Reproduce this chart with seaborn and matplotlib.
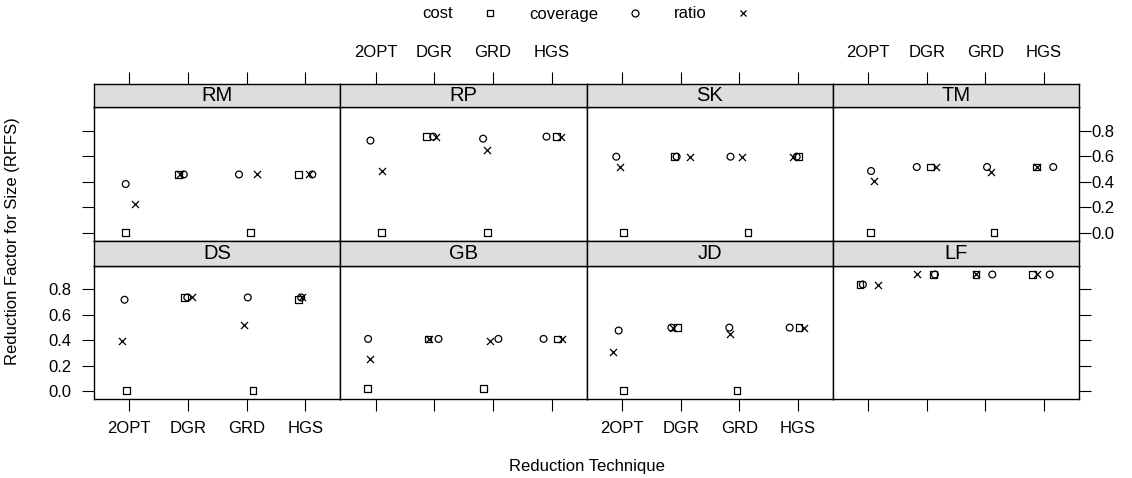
import numpy as np
import pandas as pd
import seaborn as sns
import matplotlib.pyplot as plt
from matplotlib.lines import Line2D

# Panels (lattice order: top row then bottom row) and techniques on the x axis
groups = ['RM', 'RP', 'SK', 'TM', 'DS', 'GB', 'JD', 'LF']
techniques = ['2OPT', 'DGR', 'GRD', 'HGS']
measures = ['cost', 'coverage', 'ratio']

# RFFS values per group (rows) and technique (columns)
cost = [
    [0.0, 0.457, 0.0, 0.457],
    [0.0, 0.753, 0.0, 0.753],
    [0.0, 0.596, 0.0, 0.596],
    [0.0, 0.515, 0.0, 0.515],
    [0.0, 0.737, 0.0, 0.719],
    [0.021, 0.410, 0.021, 0.410],
    [0.0, 0.499, 0.0, 0.499],
    [0.839, 0.918, 0.918, 0.918],
]
coverage = [
    [0.382, 0.457, 0.457, 0.457],
    [0.722, 0.753, 0.737, 0.753],
    [0.596, 0.596, 0.596, 0.596],
    [0.484, 0.515, 0.515, 0.515],
    [0.719, 0.737, 0.737, 0.737],
    [0.410, 0.410, 0.410, 0.410],
    [0.476, 0.499, 0.499, 0.499],
    [0.839, 0.918, 0.918, 0.918],
]
ratio = [
    [0.227, 0.457, 0.457, 0.457],
    [0.481, 0.753, 0.648, 0.753],
    [0.515, 0.596, 0.596, 0.596],
    [0.408, 0.515, 0.476, 0.515],
    [0.397, 0.737, 0.518, 0.737],
    [0.251, 0.410, 0.392, 0.410],
    [0.303, 0.499, 0.452, 0.499],
    [0.839, 0.918, 0.918, 0.918],
]

# horizontal jitter of each point
cost_jitter = [
    [-0.06, -0.16, 0.07, -0.11],
    [0.10, -0.14, -0.10, 0.08],
    [0.03, -0.10, 0.15, 0.01],
    [0.04, 0.06, 0.15, -0.12],
    [-0.05, -0.06, 0.11, -0.11],
    [-0.14, -0.11, -0.17, 0.10],
    [0.02, -0.05, -0.04, 0.02],
    [-0.14, 0.11, -0.16, -0.19],
]
coverage_jitter = [
    [-0.06, -0.07, -0.13, 0.12],
    [-0.09, -0.02, -0.17, -0.09],
    [-0.10, -0.07, -0.15, -0.02],
    [0.05, -0.17, 0.03, 0.16],
    [-0.08, -0.01, 0.02, -0.07],
    [-0.13, 0.07, 0.09, -0.14],
    [-0.06, -0.16, -0.17, -0.14],
    [-0.09, 0.14, 0.12, 0.10],
]
ratio_jitter = [
    [0.10, -0.14, 0.17, 0.06],
    [0.11, 0.03, -0.11, 0.16],
    [-0.03, 0.15, 0.05, -0.09],
    [0.10, 0.16, 0.09, -0.12],
    [-0.12, 0.07, -0.05, -0.06],
    [-0.09, -0.09, -0.06, 0.18],
    [-0.15, -0.13, -0.16, 0.10],
    [0.16, -0.16, -0.16, -0.11],
]

yticks = [0.0, 0.2, 0.4, 0.6, 0.8]

# build long table
rows = []
for vals, jit, m in [(cost, cost_jitter, 'cost'),
                     (coverage, coverage_jitter, 'coverage'),
                     (ratio, ratio_jitter, 'ratio')]:
    for gi, g in enumerate(groups):
        for ti, t in enumerate(techniques):
            rows.append({'group': g, 'technique': t, 'measure': m,
                         'xpos': ti + 1 + jit[gi][ti], 'rffs': vals[gi][ti]})
df = pd.DataFrame(rows)

sns.set_style('white')
plt.rcParams['font.family'] = ['Liberation Sans', 'DejaVu Sans']
plt.rcParams['text.color'] = 'black'
plt.rcParams['xtick.color'] = 'black'
plt.rcParams['ytick.color'] = 'black'
plt.rcParams['axes.labelcolor'] = 'black'

W, H = 1132, 478
fig = plt.figure(figsize=(W / 100, H / 100), dpi=100)

def frac(x0, y0, x1, y1):
    return [x0 / W, 1 - y1 / H, (x1 - x0) / W, (y1 - y0) / H]

col_x = [94, 340.5, 587, 833, 1079]
row_y = [(84, 107, 241), (241, 266, 399)]  # strip top, panel top, panel bottom

markers = {'cost': 's', 'coverage': 'o', 'ratio': 'x'}
tick_len, tick_w = 8.5, 0.8

for i, g in enumerate(groups):
    r, c = divmod(i, 4)
    st, pt, pb = row_y[r]
    ax = fig.add_axes(frac(col_x[c], pt, col_x[c + 1], pb))
    sax = fig.add_axes(frac(col_x[c], st, col_x[c + 1], pt))

    sub = df[df['group'] == g]
    for m in measures:
        d = sub[sub['measure'] == m]
        if m == 'ratio':
            sns.scatterplot(data=d, x='xpos', y='rffs', ax=ax, marker='x',
                            color='black', s=26, linewidth=0.9, legend=False)
        else:
            sns.scatterplot(data=d, x='xpos', y='rffs', ax=ax, marker=markers[m],
                            facecolor='none', edgecolor='black', s=24,
                            linewidth=0.9, legend=False)

    ax.set_xlim(0.4, 4.6)
    ax.set_ylim(-0.064, 0.985)
    ax.set_xlabel('')
    ax.set_ylabel('')
    ax.set_xticks(range(1, 5))
    ax.set_xticklabels(techniques)
    ax.set_yticks(yticks)
    ax.set_yticklabels([f'{v:.1f}' for v in yticks])
    ax.tick_params(axis='both', which='both', length=0, labelsize=12,
                   bottom=False, top=False, left=False, right=False,
                   labelbottom=False, labeltop=False, labelleft=False, labelright=False)
    if r == 1:
        ax.tick_params(axis='x', bottom=True, direction='out', length=tick_len,
                       width=tick_w, pad=7, labelbottom=(c in (0, 2)))
    if c == 0:
        ax.tick_params(axis='y', left=True, direction='out', length=tick_len,
                       width=tick_w, pad=8, labelleft=(r == 1))
    if c == 3:
        ax.tick_params(axis='y', right=True, direction='out', length=tick_len,
                       width=tick_w, pad=0.5, labelright=(r == 0))
    for sp in ax.spines.values():
        sp.set_visible(True)
        sp.set_color('black')
        sp.set_linewidth(1.0)

    # strip
    sax.set_facecolor('#dddddd')
    sax.set_xlim(0.4, 4.6)
    sax.set_ylim(0, 1)
    sax.set_yticks([])
    sax.set_xticks(range(1, 5))
    sax.set_xticklabels(techniques)
    sax.tick_params(axis='x', bottom=False, labelbottom=False, top=(r == 0),
                    labeltop=(r == 0 and c in (1, 3)), direction='out',
                    length=tick_len, width=tick_w, pad=9, labelsize=12)
    for sp in sax.spines.values():
        sp.set_visible(True)
        sp.set_color('black')
        sp.set_linewidth(1.0)
    sax.text(2.5, 0.5, g, ha='center', va='center', fontsize=14.5)

fig.text(587 / W, 1 - 467 / H, 'Reduction Technique', ha='center', va='center', fontsize=12)
fig.text(13 / W, 1 - 241 / H, 'Reduction Factor for Size (RFFS)', ha='center',
         va='center', rotation=90, fontsize=12)

handles = [Line2D([], [], ls='none', marker='s', mfc='none', mec='black', ms=5, mew=0.9),
           Line2D([], [], ls='none', marker='o', mfc='none', mec='black', ms=5, mew=0.9),
           Line2D([], [], ls='none', marker='x', color='black', ms=5, mew=0.9)]
fig.legend(handles, measures, loc='center', bbox_to_anchor=(587 / W, 1 - 14 / H),
           ncol=3, frameon=False, markerfirst=False, handlelength=1.0,
           handletextpad=1.7, columnspacing=1.85, fontsize=12)

fig.savefig('out.png', dpi=100)
